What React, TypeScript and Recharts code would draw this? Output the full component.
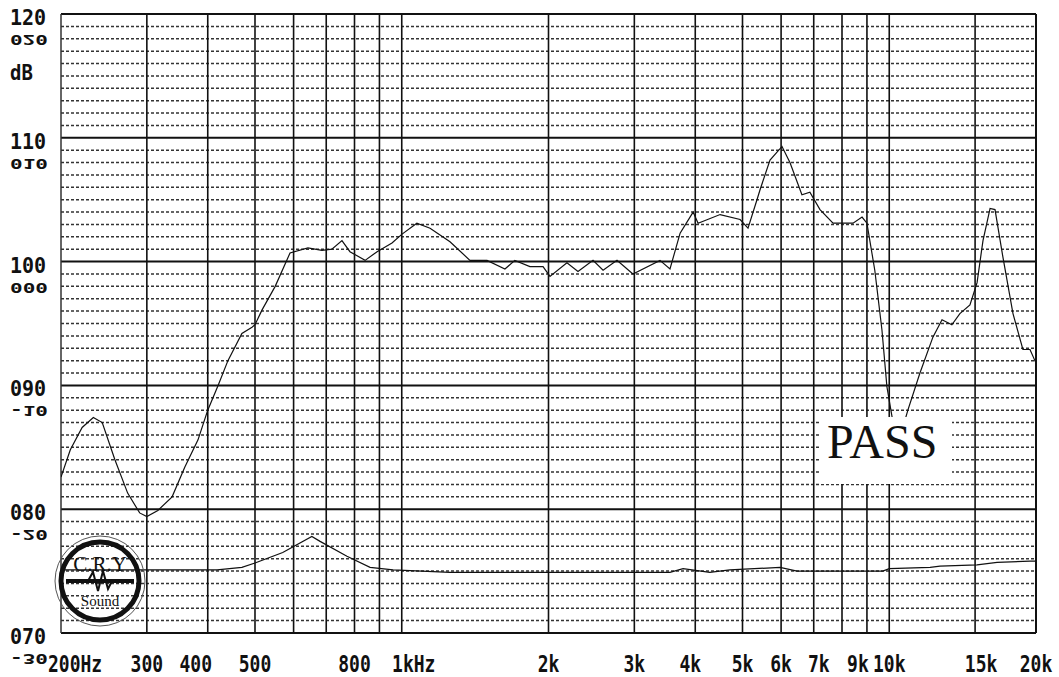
import React from 'react';
import { LineChart, Line, XAxis, YAxis, CartesianGrid, ReferenceLine } from 'recharts';

// main response curve (Hz, dB)
const respFreq = [
  200, 209, 221, 233, 243, 258, 274, 290, 300, 316, 338, 359, 382, 400, 420, 440, 470, 493, 500, 517,
  550, 590, 642, 686, 719, 754, 783, 841, 890, 955, 1000, 1074, 1143, 1256, 1380, 1496, 1628, 1706, 1832, 1949,
  2014, 2182, 2299, 2468, 2588, 2764, 2980, 3386, 3550, 3724, 3960, 4054, 4498, 4944, 5132, 5354, 5432, 5694, 6026, 6256,
  6620, 6874, 7210, 7668, 8427, 8795, 9000, 9340, 9660, 9890, 10200, 10700, 10920, 11560, 12290, 12830, 13440, 13960, 14640, 15140,
  15570, 16100, 16480, 17100, 17940, 18800, 19440, 20000,
];
const respDb = [
  82.6, 84.8, 86.6, 87.4, 87.0, 84.0, 81.3, 79.7, 79.4, 79.9, 81.0, 83.4, 85.6, 88.0, 90.0, 92.0, 94.2, 94.7, 94.9, 96.1,
  98.0, 100.7, 101.1, 100.9, 101.0, 101.7, 100.8, 100.1, 100.8, 101.5, 102.2, 103.1, 102.7, 101.6, 100.1, 100.1, 99.4, 100.1, 99.6, 99.6,
  98.8, 99.9, 99.2, 100.1, 99.3, 100.1, 99.0, 100.1, 99.4, 102.3, 104.0, 103.1, 103.8, 103.4, 102.7, 105.0, 105.8, 108.2, 109.3, 108.0,
  105.4, 105.6, 104.2, 103.1, 103.1, 103.6, 103.1, 99.3, 94.5, 89.9, 86.8, 86.8, 88.0, 91.0, 93.9, 95.3, 94.9, 95.8, 96.5, 98.3,
  101.7, 104.3, 104.2, 100.4, 95.8, 92.9, 92.9, 91.8,
];

// lower (distortion) curve, same dB axis
const thdFreq = [200, 418, 470, 500, 570, 654, 680, 772, 861, 960, 1256, 3550, 3776, 4285, 4710, 5970, 6470, 9700, 10000, 12130, 12710, 15140, 16640, 19440, 20000];
const thdDb = [75.1, 75.1, 75.3, 75.65, 76.5, 77.8, 77.4, 76.2, 75.3, 75.1, 74.9, 74.9, 75.2, 74.9, 75.1, 75.3, 75.0, 75.0, 75.2, 75.3, 75.4, 75.5, 75.7, 75.8, 75.8];

const gridFreqs = [300, 400, 500, 600, 700, 800, 900, 1000, 2000, 3000, 4000, 5000, 6000, 7000, 8000, 9000, 10000, 15000];
const xTickFreqs = [200, 300, 400, 500, 800, 1000, 2000, 3000, 4000, 5000, 6000, 7000, 9000, 10000, 15000, 20000];
const xTickLabels = ['200Hz', '300', '400', '500', '800', '1kHz', '2k', '3k', '4k', '5k', '6k', '7k', '9k', '10k', '15k', '20k'];

const yTicks = [70, 80, 90, 100, 110, 120];
const yLabels = ['070', '080', '090', '100', '110', '120'];
const ySecondary = ['-30', '-20', '-10', '000', '010', '020'];

const respData = respFreq.map((f, i) => ({ f, v: respDb[i] }));
const thdData = thdFreq.map((f, i) => ({ f, v: thdDb[i] }));

const minorDb: number[] = [];
for (let d = 71; d < 120; d++) if (d % 10 !== 0) minorDb.push(d);

const MONO = '"DejaVu Sans Mono", monospace';

// the plotter prints its labels as one text line, so some sit a little off their grid line
const labelNudge: Record<string, number> = { '400': -12, '1kHz': 12, '4k': -5, '7k': 5, '9k': -9, '15k': 6 };

const XTick = (props: any) => {
  const { x, y, payload } = props;
  const i = xTickFreqs.indexOf(payload.value);
  const label = xTickLabels[i];
  const first = i === 0;
  const tx = first ? x - 13 : x + (labelNudge[label] || 0);
  return (
    <text
      transform={`translate(${tx},${y + 39}) scale(1,1.25)`}
      textAnchor={first ? 'start' : 'middle'}
      fontFamily={MONO}
      fontWeight="bold"
      fontSize={18}
      fill="#111"
    >
      {label}
    </text>
  );
};

const YTick = (props: any) => {
  const { y, payload } = props;
  const i = yTicks.indexOf(payload.value);
  const lx = 10;
  return (
    <g>
      <text transform={`translate(${lx},${y + 11}) scale(1,1.05)`} fontFamily={MONO} fontWeight="bold" fontSize={20} fill="#111">
        {yLabels[i]}
      </text>
      <text transform={`translate(${lx},${y + 21}) scale(1.05,-0.7)`} fontFamily={MONO} fontWeight="bold" fontSize={20} fill="#111">
        {ySecondary[i]}
      </text>
      {payload.value === 120 && (
        <text transform={`translate(${lx},${y + 66}) scale(1,1.15)`} fontFamily={MONO} fontWeight="bold" fontSize={19} fill="#111">
          dB
        </text>
      )}
    </g>
  );
};

const Logo = () => (
  <g fill="none" stroke="#111">
    <circle cx={100} cy={581} r={45} strokeWidth={1} stroke="#555" />
    <circle cx={100} cy={581} r={39} strokeWidth={5} />
    <text x={100} y={571} textAnchor="middle" fontFamily='"Liberation Serif", serif' fontSize={21} fill="#111" stroke="none">
      C.R.Y
    </text>
    <line x1={66} y1={581} x2={134} y2={581} strokeWidth={4} />
    <path d="M88 581 L93 572 L98 591 L103 571 L108 589 L112 581" strokeWidth={2} />
    <text x={100} y={606} textAnchor="middle" fontFamily='"Liberation Serif", serif' fontSize={15} fill="#111" stroke="none">
      Sound
    </text>
  </g>
);

export default function App() {
  return (
    <div style={{ position: 'absolute', left: 0, top: 0, width: 1059, height: 677, background: '#fff' }}>
      <LineChart width={1059} height={677} margin={{ top: 14, right: 23, left: 0, bottom: 0 }}>
        <CartesianGrid
          horizontal
          vertical={false}
          horizontalValues={minorDb}
          stroke="#333"
          strokeWidth={1.5}
          strokeDasharray="3 2"
        />
        <XAxis
          dataKey="f"
          type="number"
          scale="log"
          domain={[200, 20000]}
          allowDataOverflow
          ticks={xTickFreqs}
          tick={<XTick />}
          tickSize={0}
          tickMargin={0}
          axisLine={false}
          tickLine={false}
          height={44}
          interval={0}
        />
        <YAxis
          type="number"
          domain={[70, 120]}
          ticks={yTicks}
          tick={<YTick />}
          tickSize={0}
          tickMargin={0}
          axisLine={false}
          tickLine={false}
          width={61}
          interval={0}
        />
        {gridFreqs.map((f) => (
          <ReferenceLine key={`v${f}`} x={f} stroke="#111" strokeWidth={1.6} ifOverflow="hidden" />
        ))}
        {yTicks.map((d) => (
          <ReferenceLine key={`h${d}`} y={d} stroke="#111" strokeWidth={2} />
        ))}
        <ReferenceLine x={200} stroke="#333" strokeWidth={1.5} />
        <ReferenceLine x={20000} stroke="#111" strokeWidth={2} />
        <Line data={thdData} dataKey="v" type="linear" stroke="#111" strokeWidth={1.2} dot={false} isAnimationActive={false} />
        <Line data={respData} dataKey="v" type="linear" stroke="#111" strokeWidth={1.2} dot={false} isAnimationActive={false} />
      </LineChart>
      <svg width={1059} height={677} style={{ position: 'absolute', left: 0, top: 0, pointerEvents: 'none' }}>
        <Logo />
        <rect x={820} y={417} width={132} height={67} fill="#fff" />
        <text x={827} y={458} fontFamily='"Liberation Serif", serif' fontSize={48} fill="#111">
          PASS
        </text>
      </svg>
    </div>
  );
}
